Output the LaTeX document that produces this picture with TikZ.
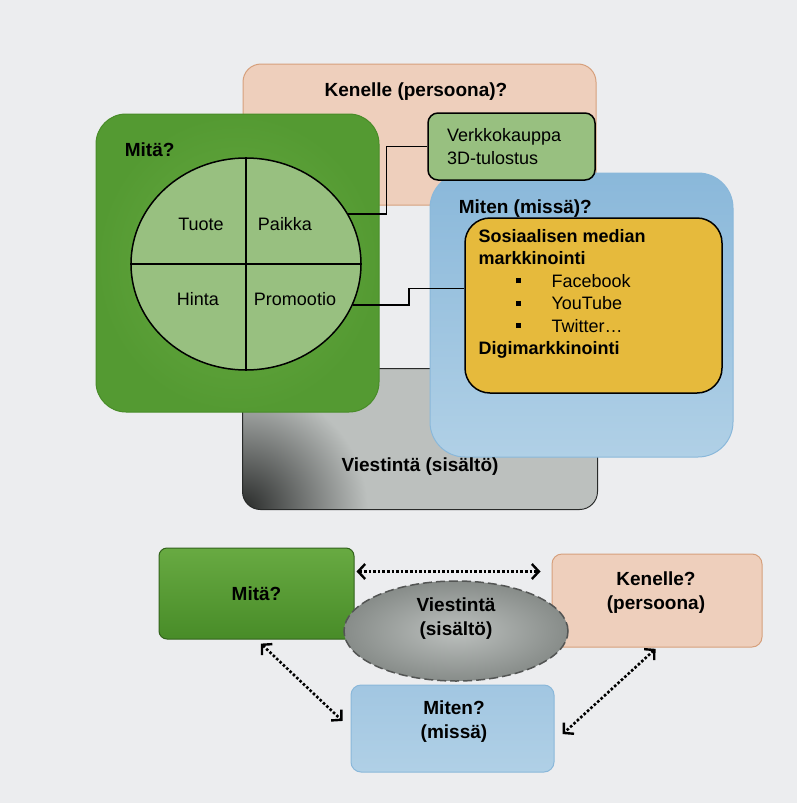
\documentclass[tikz,border=0pt]{standalone}
\usepackage{fontspec}
\setmainfont{Liberation Sans}
\usetikzlibrary{arrows.meta, shapes.geometric}

\definecolor{pagebg}{RGB}{236,237,239}
\definecolor{peach}{RGB}{238,207,188}
\definecolor{peachline}{RGB}{214,160,124}
\definecolor{leafdark}{RGB}{72,140,40}
\definecolor{leafmid}{RGB}{84,154,50}
\definecolor{leaflight}{RGB}{104,170,66}
\definecolor{sage}{RGB}{152,192,128}
\definecolor{skyblue}{RGB}{176,208,230}
\definecolor{skydark}{RGB}{138,184,218}
\definecolor{mustard}{RGB}{230,186,60}
\definecolor{slate}{RGB}{188,192,190}
\definecolor{slatedark}{RGB}{40,42,41}
\definecolor{ovalgray}{RGB}{135,140,137}

\newcommand{\smitem}[1]{\makebox[73pt][l]{\hspace*{37pt}\rule[4pt]{5pt}{5pt}}#1}

\tikzset{
  box/.style={rectangle, rounded corners=18pt, inner sep=0pt},
  title/.style={font=\fontsize{19}{24}\selectfont\bfseries},
  plain/.style={font=\fontsize{18}{22.4}\selectfont},
  link/.style={<->, >={Straight Barb[length=7pt,width=15pt,line width=2.4pt]}, line width=2.6pt, dash pattern=on 2.6pt off 2pt},
}

\begin{document}
\begin{tikzpicture}[x=1pt, y=-1pt, line width=1pt]
  \fill[pagebg] (0,0) rectangle (797,803);
  \useasboundingbox (0,0) rectangle (797,803);

  % upper picture
  \node[box, fill=peach, draw=peachline, minimum width=353pt, minimum height=141pt] (kenBox) at (419.5,134.5) {};
  \node[title] (kenTitle) at (416,92) {Kenelle (persoona)?};
  \node[box, fill=slate, minimum width=354pt, minimum height=140pt] (viesBox) at (420,439) {};
  \begin{scope}
    \clip[rounded corners=18pt] (viesBox.south west) rectangle (viesBox.north east);
    \shade[inner color=slatedark, outer color=slate] (viesBox.south west) circle[radius=125pt];
  \end{scope}
  \draw[slatedark, rounded corners=18pt] (viesBox.south west) rectangle (viesBox.north east);

  \node[box, rounded corners=30pt, draw=leafdark, inner color=leaflight, outer color=leafmid,
        minimum width=283pt, minimum height=298pt] (mitaBox) at (237.5,263) {};
  \node[title, anchor=west] (mitaTitle) at (121,150) {Mitä?};
  \node[ellipse, draw, line width=1.5pt, fill=sage, minimum width=230pt, minimum height=212pt] (circ) at (246,264) {};
  \draw[line width=1.5pt] (circ.north) -- (circ.south);
  \draw[line width=1.5pt] (circ.west) -- (circ.east);
  \node[plain] (tuote) at (201,224) {Tuote};
  \node[plain] (paikka) at (285,224) {Paikka};
  \node[plain] (hinta) at (198,299) {Hinta};
  \node[plain] (promo) at (295,299) {Promootio};

  \node[box, rounded corners=35pt, draw=skydark, top color=skydark, bottom color=skyblue,
        minimum width=303pt, minimum height=284pt] (mitenBox) at (581.5,315) {};
  \node[title, anchor=west] (mitenTitle) at (455,209) {Miten (missä)?};
  \node[box, rounded corners=25pt, draw, line width=1.5pt, fill=mustard,
        minimum width=257pt, minimum height=175pt] (yel) at (593.5,305.5) {};
  \node[plain, anchor=north west, align=left, inner sep=0pt] (yelText) at (478,229)
    {\textbf{Sosiaalisen median}\\\textbf{markkinointi}\\\smitem{Facebook}\\\smitem{YouTube}\\\smitem{Twitter\ldots}\\\textbf{Digimarkkinointi}};
  \node[title] (viesTitle) at (420,467) {Viestintä (sisältö)};

  \node[box, rounded corners=10pt, draw, line width=1.5pt, fill=sage, plain, text width=129pt, align=left,
        minimum width=167pt, minimum height=67pt] (verk) at (511.5,146.5) {Verkkokauppa\\3D-tulostus};

  \draw[line width=1.5pt] (circ.26) -- ++(38,0) |- (verk.west);
  \draw[line width=1.5pt] (circ.-21) -- ++(56,0) |- ([yshift=17pt]yel.west);

  % lower picture
  \node[box, rounded corners=8pt, draw=leafdark!70!black, top color=leaflight, bottom color=leafdark,
        minimum width=195pt, minimum height=91pt, title] (mitaB) at (256.5,593.5) {Mitä?};
  \node[box, rounded corners=10pt, draw=peachline, fill=peach,
        minimum width=210pt, minimum height=93pt] (kenB) at (657,600.5) {};
  \node[title, align=center] (kenBText) at (656,592.5) {Kenelle?\\(persoona)};
  \node[ellipse, draw=slatedark!80, dash pattern=on 9pt off 4pt, line width=1.5pt, inner color=slate, outer color=ovalgray,
        minimum width=224pt, minimum height=100pt] (viesB) at (456,631) {};
  \node[title, align=center] (viesBText) at (456,618.5) {Viestintä\\(sisältö)};
  \node[box, rounded corners=10pt, draw=skydark, top color=skydark!80, bottom color=skyblue,
        minimum width=203pt, minimum height=87pt] (mitenB) at (452.5,728.5) {};
  \node[title, align=center] (mitenBText) at (454,722) {Miten?\\(missä)};

  \draw[link, shorten <=2pt, shorten >=11pt] ([yshift=-24pt]mitaB.north east) -- ([yshift=-18pt]kenB.north west);
  \draw[link, shorten <=6pt, shorten >=11pt] (mitaB.south) -- (mitenB.west);
  \draw[link, shorten <=2pt, shorten >=11pt] (kenB.south) -- ([yshift=-13pt]mitenB.east);
\end{tikzpicture}
\end{document}
